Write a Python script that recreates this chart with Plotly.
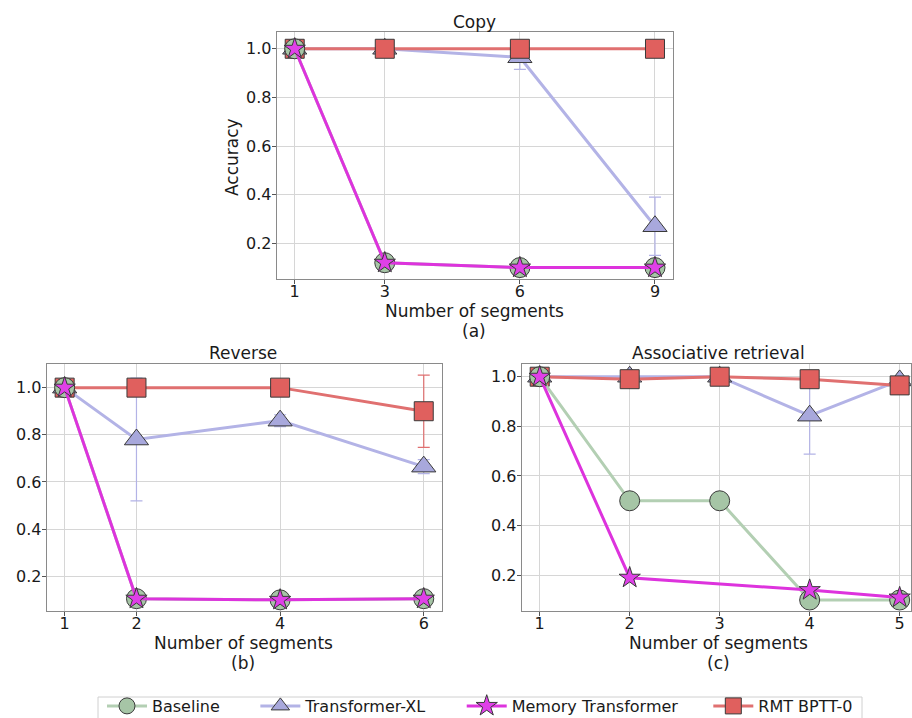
import plotly.graph_objects as go

W, H = 912, 718

# ---------------- data ----------------
copy_x = [1, 3, 6, 9]
copy_baseline = [1.0, 0.12, 0.10, 0.10]
copy_txl = [1.0, 1.0, 0.965, 0.27]
copy_txl_err = [0.0, 0.0, 0.05, 0.12]
copy_mt = [1.0, 0.12, 0.10, 0.10]
copy_rmt = [1.0, 1.0, 1.0, 1.0]
copy_rmt_err = [0.0, 0.0, 0.0, 0.0]

rev_x = [1, 2, 4, 6]
rev_baseline = [1.0, 0.105, 0.10, 0.105]
rev_txl = [1.0, 0.78, 0.86, 0.665]
rev_txl_err = [0.0, 0.26, 0.025, 0.03]
rev_mt = [1.0, 0.105, 0.10, 0.105]
rev_rmt = [1.0, 1.0, 1.0, 0.90]
rev_rmt_err = [0.0, 0.0, 0.0, 0.153]

ar_x = [1, 2, 3, 4, 5]
ar_baseline = [1.0, 0.50, 0.50, 0.10, 0.10]
ar_txl = [1.0, 1.0, 1.0, 0.843, 0.985]
ar_txl_err = [0.0, 0.02, 0.0, 0.155, 0.0]
ar_mt_x = [1, 2, 4, 5]
ar_mt = [1.0, 0.19, 0.14, 0.11]
ar_rmt = [1.0, 0.99, 1.0, 0.99, 0.965]
ar_rmt_err = [0.0, 0.0, 0.0, 0.0, 0.0]

names = ["Baseline", "Transformer-XL", "Memory Transformer", "RMT BPTT-0"]
y_ticks = [0.2, 0.4, 0.6, 0.8, 1.0]

# ---------------- styles ----------------
C_BASE_LINE, C_BASE_FILL = "#b3cfb3", "#a6c5a6"
C_TXL_LINE, C_TXL_FILL = "#b3b3e6", "#a8a8dc"
C_MT_LINE, C_MT_FILL = "#dd33dd", "#e040e8"
C_RMT_LINE, C_RMT_FILL = "#e07070", "#e0605e"
EDGE = "#3a3a3a"
FONT = "DejaVu Sans"
TXT = "#1a1a1a"
NB = "\u00a0"
pad = [6, 6, 5, 0]


def px(xp, yp):
    return xp / W, 1 - yp / H


def lname(k):
    return names[k] + NB * pad[k]


fig = go.Figure()

panels = [
    ("", copy_x, copy_baseline, copy_txl, copy_txl_err, copy_x, copy_mt, copy_rmt, copy_rmt_err),
    ("2", rev_x, rev_baseline, rev_txl, rev_txl_err, rev_x, rev_mt, rev_rmt, rev_rmt_err),
    ("3", ar_x, ar_baseline, ar_txl, ar_txl_err, ar_mt_x, ar_mt, ar_rmt, ar_rmt_err),
]

for i, (ax, x, base, txl, txl_err, mt_x, mt, rmt, rmt_err) in enumerate(panels):
    show = i == 0
    xa, ya = "x" + ax, "y" + ax
    fig.add_trace(go.Scatter(
        x=x, y=txl, name=lname(1), legendrank=2, showlegend=show, xaxis=xa, yaxis=ya,
        mode="lines+markers", line=dict(color=C_TXL_LINE, width=3),
        marker=dict(symbol="triangle-up", size=21, color=C_TXL_FILL, line=dict(color=EDGE, width=1)),
        error_y=dict(type="data", array=txl_err, color=C_TXL_LINE, thickness=1.2, width=6),
    ))
    fig.add_trace(go.Scatter(
        x=x, y=rmt, name=lname(3), legendrank=4, showlegend=show, xaxis=xa, yaxis=ya,
        mode="lines+markers", line=dict(color=C_RMT_LINE, width=3),
        marker=dict(symbol="square", size=19, color=C_RMT_FILL, line=dict(color=EDGE, width=1)),
        error_y=dict(type="data", array=rmt_err, color=C_RMT_LINE, thickness=1.2, width=6),
    ))
    fig.add_trace(go.Scatter(
        x=x, y=base, name=lname(0), legendrank=1, showlegend=show, xaxis=xa, yaxis=ya,
        mode="lines+markers", line=dict(color=C_BASE_LINE, width=3),
        marker=dict(symbol="circle", size=20, color=C_BASE_FILL, line=dict(color=EDGE, width=1)),
    ))
    fig.add_trace(go.Scatter(
        x=mt_x, y=mt, name=lname(2), legendrank=3, showlegend=show, xaxis=xa, yaxis=ya,
        mode="lines+markers", line=dict(color=C_MT_LINE, width=3),
        marker=dict(symbol="star", size=16, color=C_MT_FILL, line=dict(color=EDGE, width=1)),
    ))

axis_common = dict(
    showline=True, mirror=True, linecolor="#8a8a8a", linewidth=1,
    showgrid=True, gridcolor="#d6d6d6", gridwidth=1, zeroline=False,
    ticks="outside", ticklen=4, tickcolor="#555", tickwidth=1,
    tickfont=dict(family=FONT, size=16, color=TXT), automargin=False,
)

doms = [
    (px(276.7, 0)[0], px(673, 0)[0], px(0, 279)[1], px(0, 32)[1]),
    (px(46.7, 0)[0], px(441.7, 0)[0], px(0, 610.7)[1], px(0, 364.3)[1]),
    (px(521.7, 0)[0], px(911, 0)[0], px(0, 610.7)[1], px(0, 364.3)[1]),
]
xranges = [[0.6, 9.4], [0.75, 6.25], [0.8, 5.126]]
yranges = [[0.053, 1.069], [0.054, 1.099], [0.057, 1.05]]
xticks = [copy_x, rev_x, ar_x]

for i, (x0, x1, y0, y1) in enumerate(doms):
    sfx = "" if i == 0 else str(i + 1)
    fig.layout["xaxis" + sfx] = dict(
        axis_common, domain=[x0, x1], range=xranges[i], anchor="y" + sfx,
        tickvals=xticks[i], ticktext=[str(v) for v in xticks[i]],
        ticklabelstandoff=-6,
    )
    fig.layout["yaxis" + sfx] = dict(
        axis_common, domain=[y0, y1], range=yranges[i], anchor="x" + sfx,
        tickvals=y_ticks, ticktext=["%.1f" % v for v in y_ticks],
        ticklabelstandoff=-3,
    )

annots = [
    ("Copy", 474, 22, 17, 0),
    ("Reverse", 243, 353, 17, 0),
    ("Associative retrieval", 718, 353, 17, 0),
    ("Number of segments", 474, 311, 17, 0),
    ("(a)", 474, 331, 17, 0),
    ("Number of segments", 243, 643, 17, 0),
    ("(b)", 243, 663, 17, 0),
    ("Number of segments", 718, 643, 17, 0),
    ("(c)", 718, 663, 17, 0),
    ("Accuracy", 232, 157, 17, -90),
]
for text, xp, yp, size, ang in annots:
    ax_, ay_ = px(xp, yp)
    fig.add_annotation(
        text=text, x=ax_, y=ay_, xref="paper", yref="paper",
        xanchor="center", yanchor="middle", showarrow=False, textangle=ang,
        font=dict(family=FONT, size=size, color=TXT),
    )

# legend frame (the legend itself is drawn borderless on top of it)
fx0, fy0 = px(98, 697)
fx1, fy1 = px(862, 740)
fig.add_shape(type="rect", xref="paper", yref="paper", x0=fx0, x1=fx1, y0=fy1, y1=fy0,
              line=dict(color="#d0d0d0", width=1), fillcolor="white", layer="above")

fig.update_layout(
    width=W, height=H,
    margin=dict(l=0, r=0, t=0, b=0, autoexpand=False),
    paper_bgcolor="white", plot_bgcolor="white",
    font=dict(family=FONT, color=TXT),
    legend=dict(
        orientation="h", x=px(480, 0)[0], xanchor="center", y=px(0, 689)[1], yanchor="top",
        bordercolor="rgba(0,0,0,0)", borderwidth=0, bgcolor="rgba(0,0,0,0)",
        font=dict(family=FONT, size=16, color=TXT),
        itemwidth=40, traceorder="normal",
    ),
)

fig.write_html(
    "out.html",
    config={"displayModeBar": False},
    post_script="document.body.style.margin='0';document.body.style.overflow='hidden';",
)
